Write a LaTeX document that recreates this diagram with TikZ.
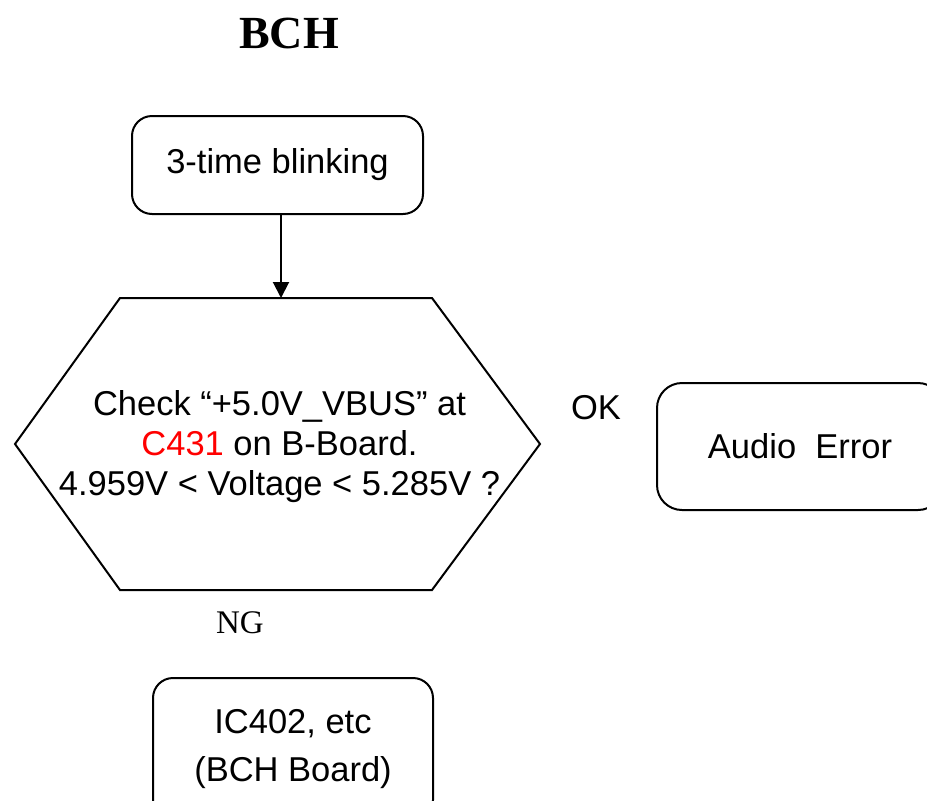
\documentclass[tikz,border=0pt]{standalone}
\usepackage{fontspec}
\setmainfont{Liberation Sans}
\newfontfamily\serifface{Liberation Serif}
\usetikzlibrary{arrows.meta,calc}
\begin{document}
\begin{tikzpicture}[x=1pt,y=-1pt,
  every node/.style={inner sep=0pt,outer sep=0pt},
  rbox/.style={draw,line width=2pt,rounded corners=20pt,align=center,
    font=\fontsize{34.5}{40}\selectfont},
  lbl/.style={font=\fontsize{34.5}{40}\selectfont},
  conn/.style={line width=2pt,-{Triangle[length=16pt,width=16pt]}}]
\clip (0,0) rectangle (927,801);
\fill[white] (0,0) rectangle (927,801);

\node[font=\serifface\bfseries\fontsize{46}{50}\selectfont] (title) at (289,33) {BCH};

\node[rbox,minimum width=291pt,minimum height=98pt] (start) at (277.5,165) {3-time blinking};

\node[minimum width=525pt,minimum height=292pt] (hex) at (277.5,444) {};
\draw[line width=2pt,line join=miter]
  (hex.west) -- ($(hex.north west)+(105,0)$) -- ($(hex.north east)+(-108,0)$) -- (hex.east)
  -- ($(hex.south east)+(-108,0)$) -- ($(hex.south west)+(105,0)$) -- cycle;
\node[align=center,font=\fontsize{34.5}{40}\selectfont] (hextext) at ([shift={(2,3)}]hex.center)
  {Check “+5.0V\_VBUS” at\\ \textcolor{red}{C431} on B-Board.\\ 4.959V < Voltage < 5.285V ?};

\draw[conn] ([xshift=3.5pt]start.south) -- ([xshift=3.5pt]hex.north);

\node[lbl] (ok) at (596,408) {OK};
\node[rbox,rounded corners=25pt,minimum width=286pt,minimum height=127pt] (audio) at (800,446.5) {Audio\ \ Error};

\node[font=\serifface\fontsize{33}{41}\selectfont] (ng) at (240,623) {NG};

\node[rbox,minimum width=280pt,minimum height=142pt] (ic) at (293,749) {IC402, etc\\[8pt](BCH Board)};
\end{tikzpicture}
\end{document}
